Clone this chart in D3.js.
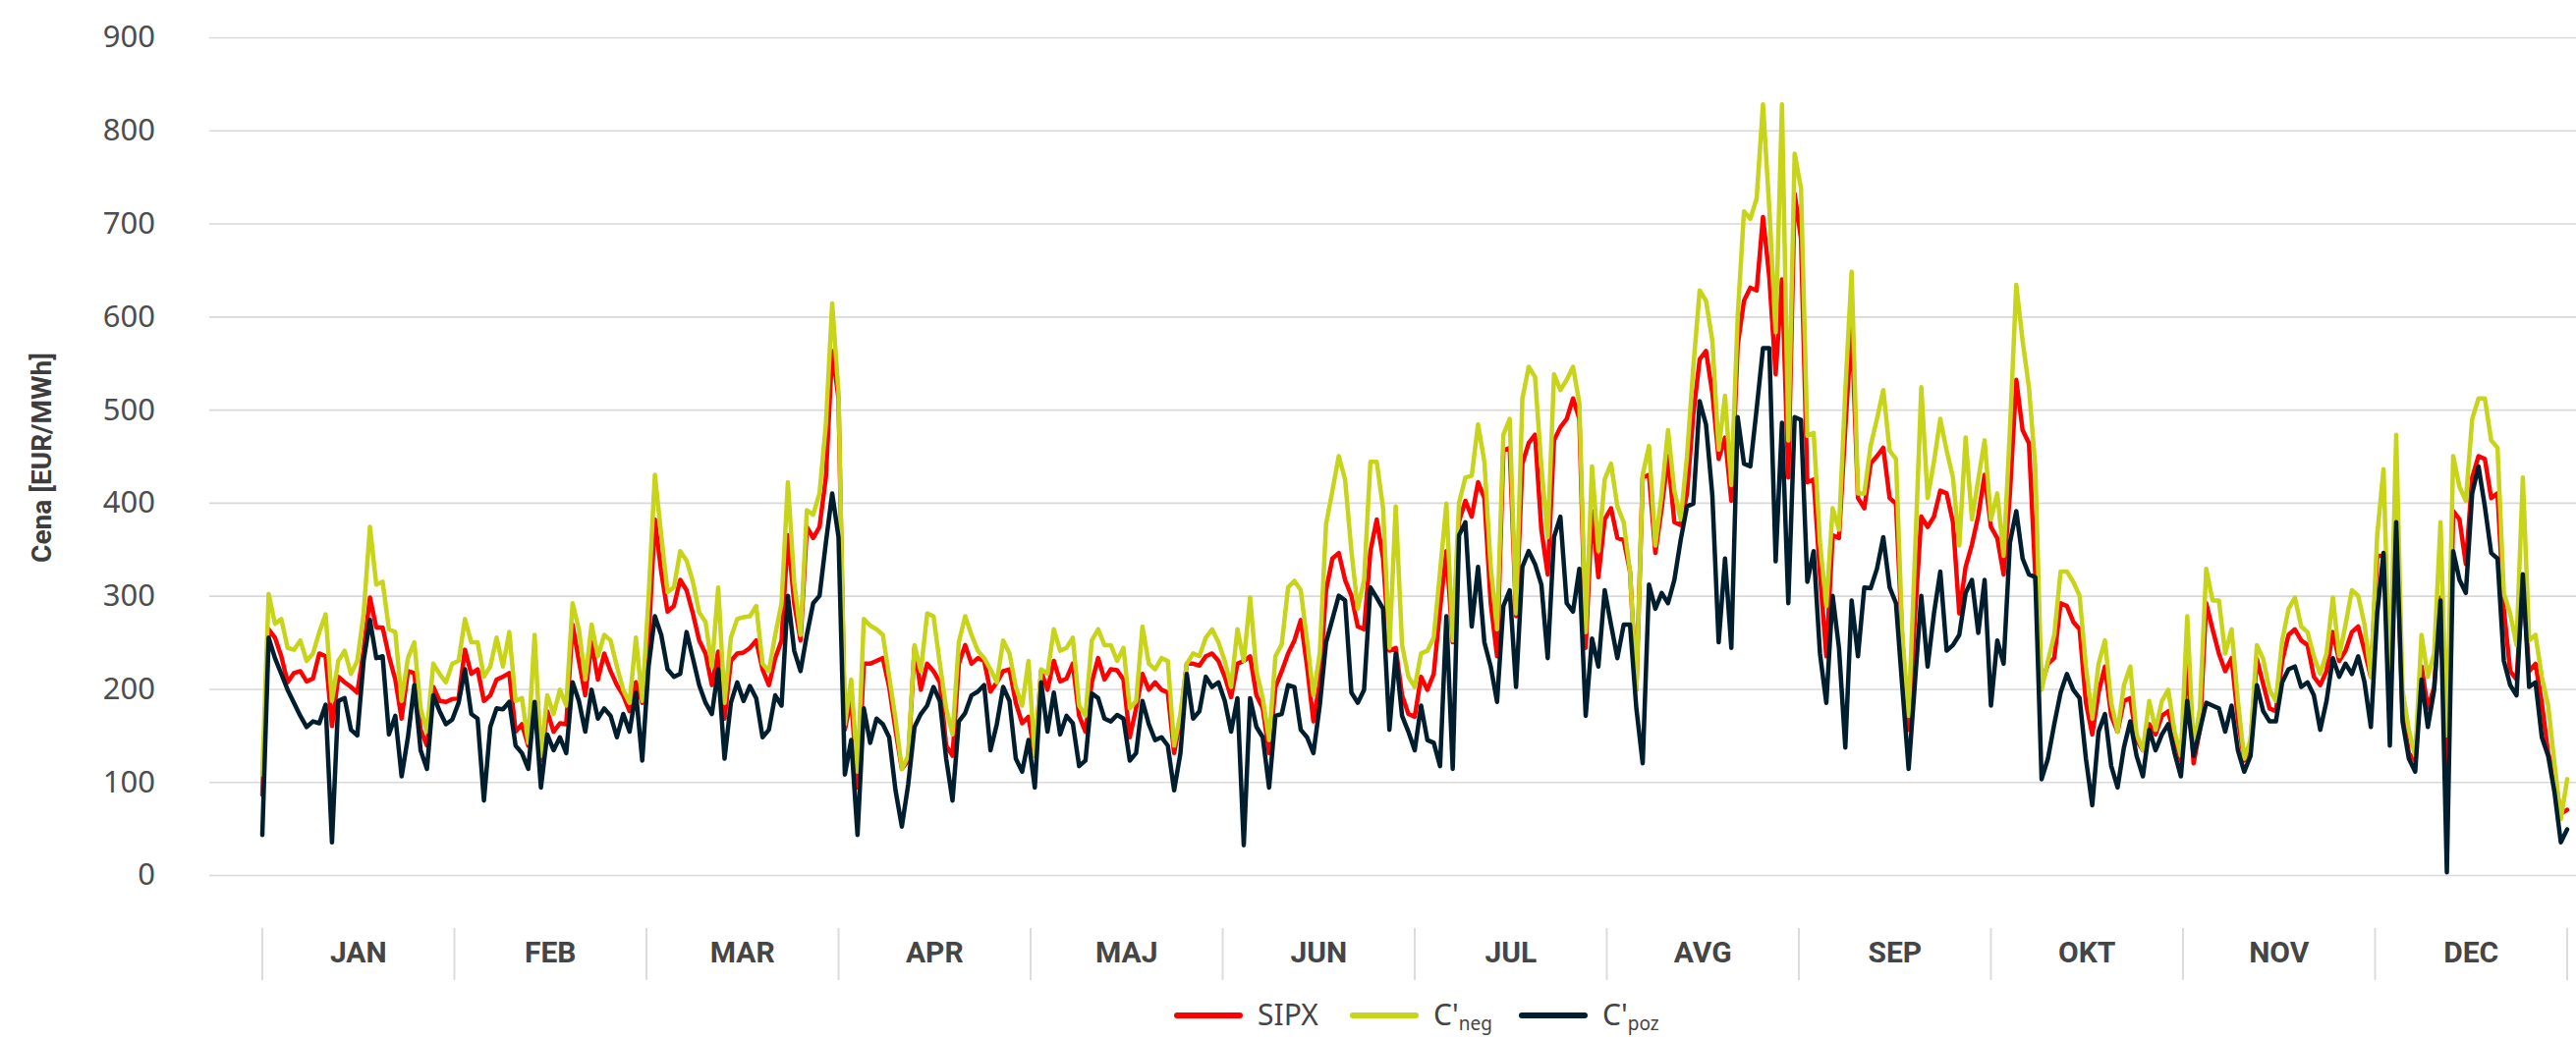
<!DOCTYPE html>
<html>
<head>
<meta charset="utf-8">
<script src="https://cdn.jsdelivr.net/npm/d3@7"></script>
<style>
  body { margin: 0; background: #fff; }
  svg { display: block; }
</style>
</head>
<body>
<div id="chart"></div>
<script>
var months = ["JAN","FEB","MAR","APR","MAJ","JUN","JUL","AVG","SEP","OKT","NOV","DEC"]
var yTicks = [0,100,200,300,400,500,600,700,800,900]

// daily values
var sipx = [
  86,264,255,235,207,217,219,208,211,238,
  235,160,213,207,202,196,241,298,266,266,
  235,210,168,219,217,156,139,202,187,186,
  189,190,242,216,221,187,193,210,213,217,
  154,162,139,185,123,176,154,163,162,269,
  230,193,250,210,238,219,204,193,176,207,
  185,252,382,326,283,289,317,306,281,252,
  238,204,240,168,230,238,239,244,252,221,
  204,233,252,365,292,252,374,362,374,427,
  563,512,156,190,94,227,227,230,233,202,
  156,114,123,244,199,227,219,207,139,128,
  227,247,227,233,230,197,207,219,221,185,
  163,170,128,219,199,230,208,211,227,171,
  154,207,233,210,221,220,210,148,179,216,
  199,207,199,196,131,168,227,227,225,235,
  238,230,213,191,227,230,235,193,179,131,
  202,219,238,252,274,224,165,207,306,340,
  346,317,300,267,264,348,382,340,241,244,
  193,173,170,213,199,216,286,348,250,380,
  402,385,422,405,292,235,456,459,278,442,
  464,473,371,323,467,481,490,512,490,244,
  391,320,382,394,362,360,326,199,427,430,
  346,394,450,379,376,410,495,554,563,518,
  447,470,402,569,617,631,628,707,642,538,
  640,427,732,684,422,425,323,235,365,362,
  480,591,405,394,442,450,459,405,399,252,
  156,278,385,374,385,413,410,379,281,331,
  355,386,430,374,362,323,410,532,478,464,
  323,204,227,233,292,289,272,264,185,151,
  196,224,171,154,187,190,145,134,162,151,
  171,176,148,123,233,120,156,292,264,238,
  219,233,168,123,142,232,205,179,176,230,
  258,264,252,247,213,204,219,261,230,241,
  261,267,241,213,343,343,204,374,176,131,
  123,224,179,202,298,80,391,382,334,427,
  450,447,405,410,286,219,210,315,219,227,
  185,131,106,66,70
]
var cNeg = [
  108,302,270,275,244,242,252,230,238,261,
  280,187,230,241,216,230,281,374,312,315,
  264,261,187,233,250,179,154,227,216,207,
  227,230,275,250,250,213,224,255,224,261,
  187,190,142,258,128,193,173,199,182,292,
  264,210,269,235,258,252,224,199,185,255,
  187,298,430,365,304,309,348,338,315,282,
  272,224,309,185,255,275,277,278,289,227,
  219,258,292,422,315,258,392,387,410,484,
  614,518,162,210,111,275,268,264,258,213,
  168,114,128,247,219,281,278,227,179,151,
  250,278,258,241,233,221,207,252,238,202,
  182,230,128,221,216,264,241,244,255,182,
  171,252,264,247,247,230,244,179,187,267,
  227,221,233,230,139,173,227,238,235,255,
  264,250,230,202,264,230,298,219,190,145,
  235,248,309,316,306,252,193,238,377,413,
  450,425,348,286,317,444,444,394,244,396,
  247,213,202,238,241,255,326,399,252,400,
  427,429,484,444,331,264,473,490,281,512,
  546,535,439,363,538,521,532,546,507,261,
  439,348,425,442,396,379,326,199,430,461,
  354,410,478,413,382,450,546,628,617,574,
  457,515,419,600,713,705,727,828,716,583,
  828,467,775,738,472,475,357,289,394,371,
  520,648,410,410,461,490,521,456,447,258,
  171,343,524,405,444,490,456,427,354,470,
  382,425,467,382,410,343,478,634,574,524,
  439,199,230,258,326,326,315,300,224,168,
  227,252,185,154,204,224,151,134,187,156,
  187,199,154,128,278,137,179,329,295,295,
  238,264,187,125,145,247,232,199,187,252,
  286,298,267,261,235,216,238,298,235,269,
  306,300,269,213,365,436,202,473,199,156,
  128,258,213,238,379,150,450,417,402,490,
  512,512,467,459,303,281,247,427,252,258,
  213,182,120,60,103
]
var cPoz = [
  43,255,233,216,199,185,171,159,165,163,
  183,35,187,190,156,150,230,274,233,235,
  151,171,106,148,204,134,114,193,176,162,
  167,185,221,173,168,80,159,179,178,186,
  139,131,114,186,94,151,134,148,131,207,
  187,154,199,168,179,171,148,173,154,196,
  123,224,278,258,221,213,216,261,233,204,
  185,173,221,125,185,207,187,203,190,148,
  156,193,182,300,241,219,258,292,300,357,
  410,363,108,145,43,179,142,168,162,148,
  91,52,97,159,173,182,202,187,125,80,
  165,174,193,197,204,134,162,202,187,125,
  111,145,94,207,154,196,151,171,163,117,
  123,195,190,168,165,172,168,123,131,187,
  162,145,148,139,91,131,216,168,176,213,
  202,207,187,154,190,32,190,159,148,94,
  171,173,204,202,156,148,131,182,250,275,
  300,295,196,185,199,309,298,286,156,238,
  171,154,134,182,145,142,117,278,114,365,
  379,267,331,250,224,186,289,306,202,331,
  348,334,312,233,363,385,292,283,329,171,
  254,224,306,269,233,269,269,179,120,312,
  286,303,292,317,360,396,399,509,484,408,
  250,340,244,492,442,439,501,566,566,337,
  486,292,492,489,315,348,238,185,300,244,
  137,295,235,309,308,329,363,309,292,202,
  114,207,300,224,281,326,241,247,258,303,
  317,260,317,182,252,227,357,391,340,323,
  320,103,125,162,196,216,199,190,125,75,
  154,173,117,94,137,165,128,106,156,134,
  151,162,131,106,187,128,156,185,182,179,
  154,182,134,111,128,204,176,165,165,207,
  221,224,202,207,193,156,187,233,213,227,
  216,235,207,159,281,346,139,379,165,125,
  111,210,159,199,295,3,348,317,303,410,
  439,396,346,340,230,204,193,323,202,207,
  148,128,89,35,49
]

var series = [
  {name:"SIPX", sub:"", values:sipx, color:"#ff0000"},
  {name:"C'", sub:"neg", values:cNeg, color:"#c8d41a"},
  {name:"C'", sub:"poz", values:cPoz, color:"#001e2e"}
]

var W = 2622, H = 1058
var svg = d3.select("#chart").append("svg").attr("width",W).attr("height",H)

var x = d3.scaleLinear().domain([0, sipx.length-1]).range([267, 2613])
var xm = d3.scaleBand().domain(months).range([267, 2613])
var y = d3.scaleLinear().domain([0, 900]).range([891, 38])

// gridlines + y labels
var yAxis = svg.append("g")
    .attr("transform","translate(213,0)")
    .call(d3.axisLeft(y).tickValues(yTicks).tickSize(-(W-213)).tickPadding(55))
yAxis.select(".domain").remove()
yAxis.selectAll(".tick line").attr("stroke","#d9d9d9").attr("stroke-width",1.6)
yAxis.selectAll(".tick text")
    .attr("font-family","'Noto Sans', sans-serif")
    .attr("font-size",31)
    .attr("fill","#4d4d4d")

svg.append("text")
    .text("Cena [EUR/MWh]")
    .attr("transform","translate(52,466) rotate(-90)")
    .attr("text-anchor","middle")
    .attr("font-family","Roboto, sans-serif")
    .attr("font-weight","bold")
    .attr("font-size",28)
    .attr("fill","#3d3d3d")

// month axis
var mAxis = svg.append("g")
    .attr("transform","translate(0,945)")
    .call(d3.axisBottom(xm).tickSize(0).tickPadding(0))
mAxis.select(".domain").remove()
mAxis.selectAll(".tick text")
    .attr("dy","1.0em")
    .attr("y",5)
    .attr("font-family","Roboto, sans-serif")
    .attr("font-weight","bold")
    .attr("font-size",30)
    .attr("fill","#454545")
var bounds = months.map(function(m){ return xm(m) }).concat([xm.range()[1]])
svg.append("g").selectAll("line").data(bounds).enter().append("line")
    .attr("x1",function(d){return d}).attr("x2",function(d){return d})
    .attr("y1",945).attr("y2",998)
    .attr("stroke","#dcdcdc").attr("stroke-width",2)

// lines
var line = d3.line()
    .x(function(d,i){ return x(i) })
    .y(function(d){ return y(d) })
svg.append("g").selectAll("path").data(series).enter().append("path")
    .attr("d",function(s){ return line(s.values) })
    .attr("fill","none")
    .attr("stroke",function(s){ return s.color })
    .attr("stroke-width",4.5)
    .attr("stroke-linejoin","round")
    .attr("stroke-linecap","round")

// legend
var legX = [1198, 1377, 1549]
var leg = svg.append("g").selectAll("g").data(series).enter().append("g")
    .attr("transform",function(d,i){ return "translate("+legX[i]+",1034)" })
leg.append("line")
    .attr("x1",0).attr("x2",64).attr("y1",0).attr("y2",0)
    .attr("stroke",function(d){return d.color})
    .attr("stroke-width",6)
    .attr("stroke-linecap","round")
var lt = leg.append("text")
    .attr("x",82).attr("y",10)
    .attr("font-family","'Noto Sans', sans-serif")
    .attr("font-size",30)
    .attr("fill","#444")
lt.append("tspan").text(function(d){return d.name})
lt.append("tspan").text(function(d){return d.sub})
    .attr("font-size",19).attr("dy",5)
</script>
</body>
</html>
